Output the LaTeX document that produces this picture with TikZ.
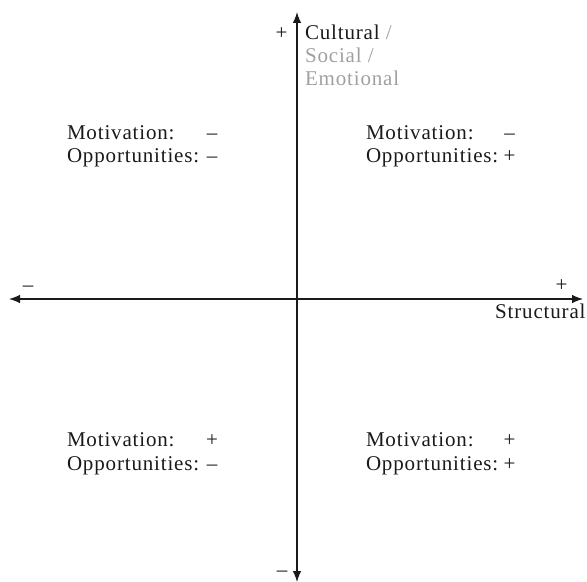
\documentclass[tikz,border=0pt]{standalone}
\usepackage{fontspec}
\setmainfont{Liberation Serif}[LetterSpace=4]
\usetikzlibrary{arrows.meta}
\definecolor{lightgray}{HTML}{A0A0A0}
\definecolor{ink}{HTML}{1A1A1A}
\tikzset{
  axis/.style={line width=1.2bp, draw=ink, {Latex[length=11bp,width=8.5bp]}-{Latex[length=11bp,width=8.5bp]}},
  lbl/.style={inner sep=0pt, outer sep=0pt, text=ink, font=\fontsize{21bp}{23bp}\selectfont},
  lblw/.style={lbl, anchor=base west},
  sign/.style={lbl, anchor=base},
  greytxt/.style={lblw, text=lightgray}
}
\begin{document}
\begin{tikzpicture}[x=1bp,y=-1bp]
\useasboundingbox (0,0) rectangle (587,582);
% axes
\coordinate (vtop) at (297,12);
\coordinate (vbot) at (297,582);
\coordinate (hleft) at (9,299);
\coordinate (hright) at (583,299);
\draw[axis] (vbot) -- (vtop);
\draw[axis] (hleft) -- (hright);
% axis labels
\node[sign] (vplus) at (281.5,40) {+};
\node[lblw] (cult) at (305,40) {Cultural \textcolor{lightgray}{/}};
\node[greytxt] (soc) at (305,63) {Social /};
\node[greytxt] (emo) at (305,86) {Emotional};
\node[sign] (hminus) at (28,291) {–};
\node[sign] (hplus) at (561.5,291) {+};
\node[lbl, anchor=base east] (struct) at (585.5,318) {Structural};
\node[sign] (vminus) at (282,576) {–};
% top-left
\node[lblw] (tlm) at (67,140) {Motivation:};
\node[sign] (tlms) at (212,140) {–};
\node[lblw] (tlo) at (67,163) {Opportunities:};
\node[sign] (tlos) at (212,163) {–};
% top-right
\node[lblw] (trm) at (366,140) {Motivation:};
\node[sign] (trms) at (509.5,140) {–};
\node[lblw] (tro) at (366,163) {Opportunities:};
\node[sign] (tros) at (509.5,163) {+};
% bottom-left
\node[lblw] (blm) at (67,446) {Motivation:};
\node[sign] (blms) at (212,446) {+};
\node[lblw] (blo) at (67,470) {Opportunities:};
\node[sign] (blos) at (212,470) {–};
% bottom-right
\node[lblw] (brm) at (366,446) {Motivation:};
\node[sign] (brms) at (509.5,446) {+};
\node[lblw] (bro) at (366,470) {Opportunities:};
\node[sign] (bros) at (509.5,470) {+};
\end{tikzpicture}
\end{document}
